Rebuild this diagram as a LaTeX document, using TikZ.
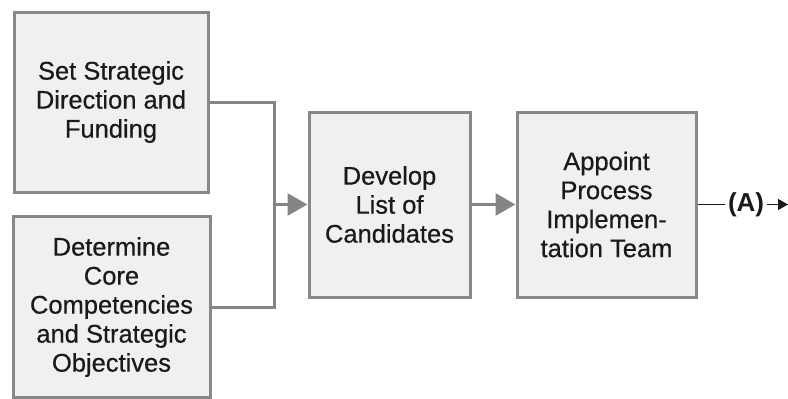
\documentclass[tikz,border=0pt]{standalone}
\usepackage{fontspec}
\setmainfont{Liberation Sans}
\newfontfamily\boxfont[FakeBold=0.5]{Liberation Sans}
\usetikzlibrary{arrows.meta}
\definecolor{boxline}{HTML}{888888}
\definecolor{boxfill}{HTML}{F0F0F0}
\definecolor{flowline}{HTML}{858585}
\definecolor{ink}{HTML}{1A1A1A}
\begin{document}
\begin{tikzpicture}[x=1pt,y=-1pt,
  procbox/.style={draw=boxline,fill=boxfill,line width=3pt,align=center,
    text=ink,font=\boxfont\fontsize{25.5}{29}\selectfont,inner sep=0pt},
  flow/.style={draw=flowline,line width=3pt,
    -{Triangle[length=20pt,width=22pt,fill=flowline]}},
  joinline/.style={draw=flowline,line width=3pt}
]
\useasboundingbox (0,0) rectangle (788,399);

\node[procbox,minimum width=194pt,minimum height=180pt] (b1) at (111,102)
  {Set Strategic\\Direction and\\Funding};
\node[procbox,minimum width=197pt,minimum height=181pt] (b2) at (111.5,307)
  {Determine\\Core\\Competencies\\and Strategic\\Objectives};
\node[procbox,minimum width=161pt,minimum height=185pt] (b3) at (389.5,204.5)
  {Develop\\List of\\Candidates};
\node[procbox,minimum width=179pt,minimum height=185pt] (b4) at (606.5,204.5)
  {Appoint\\Process\\Implemen-\\tation Team};

% merge point of the two input lines
\coordinate (j) at (274,204.5);
\draw[joinline] (b1.east) -| (j);
\draw[joinline] (b2.east) -| (j);
\draw[flow] (j) -- (b3.west);
\draw[flow] (b3.east) -- (b4.west);

% off-page connector
\node[font=\bfseries\fontsize{26}{29}\selectfont,text=ink,inner sep=0pt,
  outer sep=3pt,anchor=west] (a) at (725,204.5) {(A)};
\coordinate (end) at (788,204.5);
\draw[line width=1.5pt,ink] (b4.east) -- (a.west);
\draw[line width=1.5pt,ink,-{Triangle[length=10pt,width=11pt]}] (a.east) -- (end);
\end{tikzpicture}
\end{document}
